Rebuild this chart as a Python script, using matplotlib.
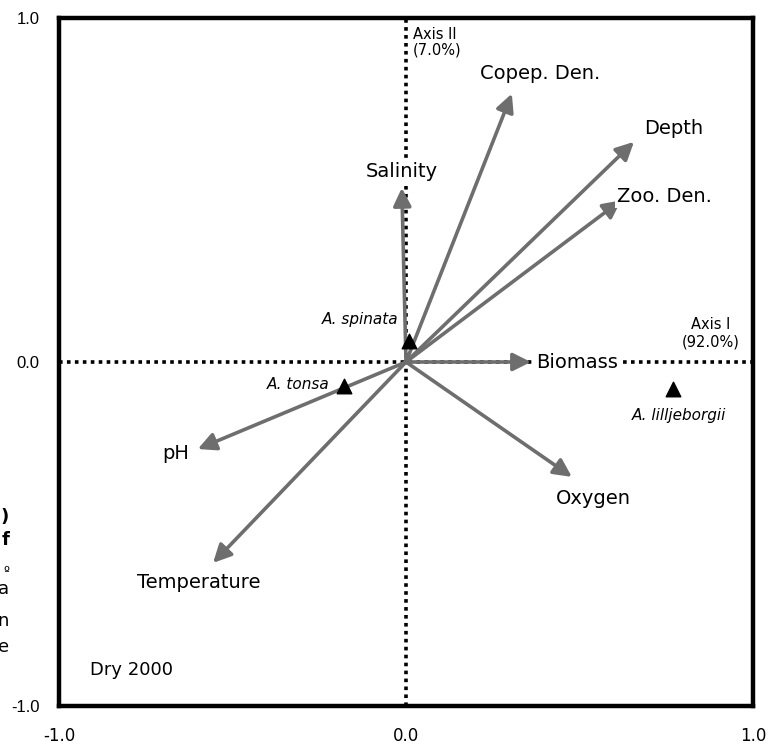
import matplotlib
matplotlib.use("Agg")
import matplotlib.pyplot as plt

# Environmental vectors (Axis I, Axis II)
variables = ["Copep. Den.", "Depth", "Zoo. Den.", "Salinity", "Biomass", "Oxygen", "pH", "Temperature"]
var_x = [0.305, 0.657, 0.62, -0.012, 0.36, 0.478, -0.60, -0.556]
var_y = [0.78, 0.64, 0.47, 0.506, 0.0, -0.334, -0.253, -0.584]

# Species scores
species = ["A. spinata", "A. tonsa", "A. lilljeborgii"]
sp_x = [0.009, -0.18, 0.77]
sp_y = [0.061, -0.07, -0.078]

ticks = [-1.0, 0.0, 1.0]
tick_labels = ["-1.0", "0.0", "1.0"]

W, H = 771, 749
fig = plt.figure(figsize=(W / 100, H / 100), dpi=100)
ax = fig.add_axes([59 / W, 1 - 706 / H, (753 - 59) / W, (706 - 18) / H])
ax.set_xlim(-1, 1)
ax.set_ylim(-1, 1)

for s in ax.spines.values():
    s.set_linewidth(3.2)
    s.set_color("black")
    s.set_zorder(10)

ax.set_xticks(ticks)
ax.set_xticklabels(tick_labels, fontsize=12, family="DejaVu Sans")
ax.set_yticks(ticks)
ax.set_yticklabels(tick_labels, fontsize=12, family="Liberation Sans")
ax.tick_params(axis="both", length=0)
ax.tick_params(axis="x", pad=15)
ax.tick_params(axis="y", pad=14)

# dotted reference axes
ax.axhline(0, color="black", lw=2.6, linestyle=(0, (1, 1.2)), zorder=1)
ax.axvline(0, color="black", lw=2.6, linestyle=(0, (1, 1.2)), zorder=1)

arrow_col = "#6e6e6e"
for x, y in zip(var_x, var_y):
    ax.annotate("", xy=(x, y), xytext=(0, 0),
                arrowprops=dict(arrowstyle="-|>,head_length=0.9,head_width=0.45",
                                color=arrow_col, lw=2.6, shrinkA=0, shrinkB=0,
                                mutation_scale=12), zorder=3)

# variable labels (offsets in pixels)
lab_off = {
    "Copep. Den.": (28, 20),
    "Depth": (40, 13),
    "Zoo. Den.": (43, 4),
    "Salinity": (0, 16),
    "Biomass": (46, 0),
    "Oxygen": (22, -22),
    "pH": (-22, -4),
    "Temperature": (-14, -20),
}
for name, x, y in zip(variables, var_x, var_y):
    dx, dy = lab_off[name]
    ax.annotate(name, xy=(x, y), xytext=(dx, dy), textcoords="offset pixels",
                ha="center", va="center", fontsize=14, family="DejaVu Sans", zorder=5,
                bbox=dict(boxstyle="square,pad=0.1", fc="white", ec="none"))

ax.scatter(sp_x, sp_y, marker="^", s=110, color="black", zorder=6)
sp_off = {
    "A. spinata": (-49, 22),
    "A. tonsa": (-45, 2),
    "A. lilljeborgii": (6, -27),
}
for name, x, y in zip(species, sp_x, sp_y):
    dx, dy = sp_off[name]
    ax.annotate(name, xy=(x, y), xytext=(dx, dy), textcoords="offset pixels",
                ha="center", va="center", fontsize=11, style="italic",
                family="DejaVu Sans", zorder=6)

ax.text(0.879, 0.084, "Axis I\n(92.0%)", ha="center", va="center", fontsize=10.5,
        family="DejaVu Sans", linespacing=1.2, multialignment="center")
ax.text(0.02, 0.93, "Axis II\n(7.0%)", ha="left", va="center", fontsize=10.5,
        family="DejaVu Sans", linespacing=1.05)
ax.text(-0.91, -0.895, "Dry 2000", ha="left", va="center", fontsize=13,
        family="DejaVu Sans")

# clipped fragments of neighbouring text on the left margin
frags = [(")", 517, "bold", 13), ("f", 540, "bold", 13), ("º", 572, "normal", 9),
         ("a", 589, "normal", 13), ("n", 621, "normal", 13), ("e", 647, "normal", 13)]
for t, py, w, fs in frags:
    fig.text(9 / W, 1 - py / H, t, ha="right", va="center", fontsize=fs,
             fontweight=w, family="DejaVu Sans")

fig.savefig("out.png", dpi=100)
